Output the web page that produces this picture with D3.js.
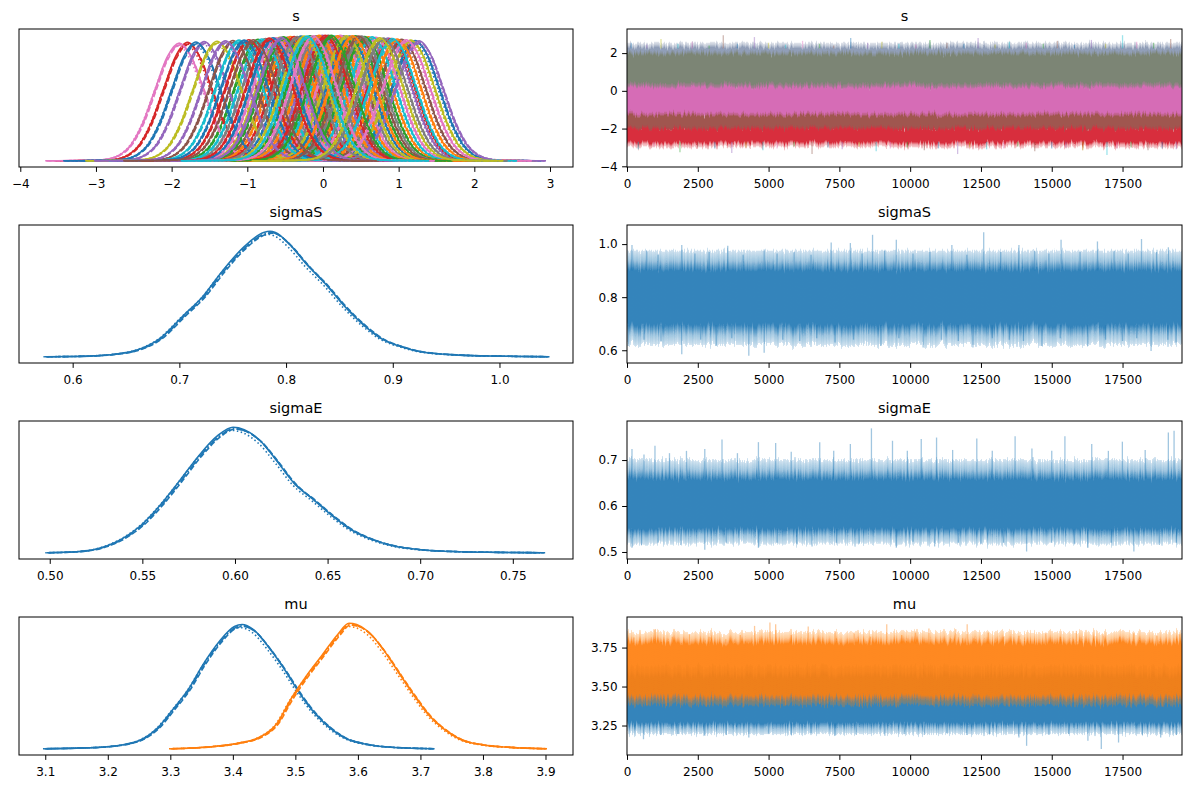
<!DOCTYPE html>
<html>
<head>
<meta charset="utf-8">
<script src="https://cdn.jsdelivr.net/npm/d3@7/dist/d3.min.js"></script>
<style>
  body { margin: 0; background: #fff; }
  svg text { font-family: "DejaVu Sans", sans-serif; fill: #000; }
</style>
</head>
<body>
<svg id="fig" width="1189" height="789"></svg>
<script>
// trace plot: posterior KDE on the left, chain traces on the right

// panel names, limits and tick labels
var varNames = ["s", "sigmaS", "sigmaE", "mu"];
var kdeLimits = [[-4.017, 3.304], [0.5497, 1.0689], [0.4834, 0.7825], [3.058, 3.944]];
var kdeTicks = [[-4, -3, -2, -1, 0, 1, 2, 3], [0.6, 0.7, 0.8, 0.9, 1.0],
  [0.50, 0.55, 0.60, 0.65, 0.70, 0.75], [3.1, 3.2, 3.3, 3.4, 3.5, 3.6, 3.7, 3.8, 3.9]];
var kdeTickFmt = ["d", ".1f", ".2f", ".1f"];
var iterLimits = [0, 19600];
var iterTicks = [0, 2500, 5000, 7500, 10000, 12500, 15000, 17500];
var traceLimits = [[-4.037, 3.278], [0.552, 1.072], [0.4847, 0.785], [3.061, 3.946]];
var traceTicks = [[-4, -2, 0, 2], [0.6, 0.8, 1.0], [0.5, 0.6, 0.7], [3.25, 3.50, 3.75]];
var traceTickFmt = ["d", ".1f", ".1f", ".2f"];

// s: one KDE per component (component index order)
var sMeans = [
  -0.29, 0.60, -0.86, -1.79, 0.86, -0.47, -1.90, 0.27, -0.57, 0.15,
  1.22, -0.43, 0.43, -0.38, -1.57, 1.04, 0.23, -0.76, 1.16, -0.81,
  -1.68, 0.19, -0.17, 0.90, -0.01, -1.19, 0.70, -0.09, -1.40, 0.65,
  0.35, -0.05, 0.55, -0.98, 1.27, 0.07, -0.62, 0.51, 0.31, -1.11,
  -1.04, 0.98, -0.52, 0.03, -1.29, 0.47, 1.10, -0.34, -0.25, 0.92,
  -0.66, 0.39, 0.11, -0.71, -0.55, -0.92, -0.13, 0.80, 0.75, -0.21];
var sSd = [
  0.302, 0.304, 0.310, 0.318, 0.307, 0.305, 0.320, 0.301, 0.305, 0.302,
  0.313, 0.303, 0.301, 0.303, 0.316, 0.310, 0.300, 0.308, 0.312, 0.309,
  0.317, 0.301, 0.301, 0.308, 0.300, 0.313, 0.305, 0.301, 0.315, 0.304,
  0.302, 0.300, 0.303, 0.311, 0.314, 0.300, 0.306, 0.302, 0.301, 0.312,
  0.312, 0.309, 0.304, 0.300, 0.314, 0.302, 0.311, 0.303, 0.302, 0.308,
  0.306, 0.301, 0.300, 0.307, 0.305, 0.311, 0.301, 0.307, 0.306, 0.302];
// shape of one s curve (height vs. offset in sd units)
var sProfileZ = [-5.5, -5, -4.5, -4, -3.5, -3, -2.5, -2, -1.5, -1, -0.5, 0, 0.5, 1, 1.5, 2, 2.5, 3, 3.5, 4, 4.5, 5, 5.3];
var sProfile = [0, 0.0002, 0.0005, 0.0015, 0.004, 0.012, 0.045, 0.135, 0.325, 0.605, 0.88, 1,
  0.88, 0.605, 0.325, 0.135, 0.045, 0.012, 0.004, 0.0015, 0.0005, 0.0002, 0];

// KDE curves of the scalar parameters
var sigmaSX = [0.574, 0.60, 0.62, 0.6395, 0.661, 0.681, 0.704, 0.722, 0.740, 0.761, 0.779, 0.785, 0.790,
  0.804, 0.819, 0.837, 0.855, 0.873, 0.890, 0.908, 0.926, 0.962, 0.998, 1.045];
var sigmaSY = [0, 0.002, 0.007, 0.02, 0.055, 0.14, 0.33, 0.48, 0.68, 0.88, 0.99, 1.0, 0.99,
  0.89, 0.74, 0.58, 0.40, 0.25, 0.14, 0.08, 0.04, 0.013, 0.005, 0];
var sigmaEX = [0.4984, 0.5146, 0.530, 0.539, 0.5495, 0.5598, 0.5701, 0.5805, 0.5908, 0.599, 0.605, 0.6135,
  0.622, 0.632, 0.6425, 0.6528, 0.663, 0.673, 0.6859, 0.700, 0.7209, 0.7416, 0.7664];
var sigmaEY = [0, 0.008, 0.05, 0.11, 0.22, 0.38, 0.57, 0.77, 0.93, 0.995, 0.976, 0.89,
  0.74, 0.55, 0.42, 0.29, 0.18, 0.11, 0.053, 0.024, 0.008, 0.003, 0];
var muBlueX = [3.0982, 3.1503, 3.2, 3.2305, 3.255, 3.2795, 3.304, 3.329, 3.353, 3.378, 3.4025, 3.4148,
  3.433, 3.4575, 3.482, 3.5065, 3.531, 3.5555, 3.580, 3.611, 3.6418, 3.7214];
var muBlueY = [0, 0.005, 0.016, 0.037, 0.075, 0.163, 0.31, 0.47, 0.67, 0.845, 0.965, 0.98,
  0.94, 0.80, 0.63, 0.44, 0.28, 0.163, 0.083, 0.037, 0.016, 0];
var muOrangeX = [3.2997, 3.3653, 3.408, 3.4448, 3.469, 3.4939, 3.5184, 3.543, 3.5674, 3.5858, 3.598,
  3.6164, 3.641, 3.6654, 3.69, 3.7143, 3.7388, 3.7633, 3.8, 3.843, 3.9];
var muOrangeY = [0, 0.016, 0.043, 0.096, 0.19, 0.40, 0.58, 0.74, 0.90, 0.99, 0.98,
  0.925, 0.78, 0.60, 0.42, 0.26, 0.15, 0.075, 0.03, 0.011, 0];

// small chain-to-chain differences (shift as fraction of curve span, height factor)
var chainShift = [0, 0.004, -0.003, 0.002];
var chainScale = [1, 0.985, 0.975, 0.99];

// traces: band levels [outerLo, coreLo, coreHi, outerHi] and the tallest spikes
var sBandOuterLo = [1.6, -0.15, -1.7, -2.35, -3.0];
var sBandCoreLo = [1.85, 0.1, -1.4, -2.1, -2.7];
var sBandCoreHi = [2.25, 1.9, 0.15, -1.35, -2.05];
var sBandOuterHi = [2.55, 2.1, 0.4, -1.15, -1.9];
var sUpIter = [150, 700, 1200, 1800, 2300, 2900, 3400, 3900, 4500, 5000, 5600, 6200, 6800, 7300, 7900, 8500, 9000,
  9600, 10200, 10700, 11300, 11900, 12400, 13000, 13500, 14100, 14700, 15200, 15800, 16400, 16900, 17500, 18000, 18600, 19200];
var sUpVal = [2.55, 2.45, 2.75, 2.5, 2.6, 2.4, 2.95, 2.5, 2.85, 2.55, 2.45, 2.65, 2.5, 2.4, 2.8, 2.55, 2.6,
  2.5, 2.45, 2.7, 2.55, 2.5, 2.8, 2.45, 2.6, 2.55, 2.5, 2.65, 2.45, 2.7, 2.5, 2.95, 2.6, 2.55, 2.75];
var sDownIter = [400, 950, 1870, 2500, 3100, 3700, 4200, 4800, 5300, 5900, 6535, 7100, 7600, 8200, 8800, 9300, 9900,
  10500, 11000, 11676, 12100, 12700, 13300, 13800, 14400, 15000, 15500, 16100, 16950, 17300, 17800, 18400, 18900, 19400];
var sDownVal = [-3.1, -2.95, -3.25, -3.0, -3.05, -3.3, -3.0, -3.15, -3.05, -2.95, -3.35, -3.0, -3.1, -2.95, -3.2, -3.05, -3.0,
  -3.15, -3.05, -3.35, -3.0, -3.1, -3.05, -2.95, -3.2, -3.05, -3.0, -3.15, -3.4, -3.05, -3.0, -3.15, -3.05, -3.1];

var sigmaSBand = [0.62, 0.695, 0.90, 0.975];
var sigmaSUpIter = [176, 700, 1100, 1934, 2400, 2900, 3558, 4100, 4844, 5300, 5900, 6500, 7211, 7888, 8300, 8672, 9100, 9511,
  10100, 10700, 11473, 12000, 12597, 13200, 13841, 14400, 14900, 15329, 16000, 16614, 17200, 17700, 18170, 18700, 19118];
var sigmaSUpVal = [0.997, 0.975, 0.96, 0.997, 0.965, 0.97, 0.994, 0.96, 0.98, 0.965, 0.97, 0.96, 1.006, 1.004, 0.965, 1.035, 0.975, 1.016,
  0.965, 0.97, 0.997, 0.96, 1.045, 0.97, 0.997, 0.975, 0.965, 1.016, 0.97, 1.01, 0.975, 0.965, 1.019, 0.97, 0.988];
var sigmaSDownIter = [41, 600, 1200, 1934, 2600, 3152, 3700, 4302, 4844, 5500, 6100, 6700, 7347, 8000, 8970, 9600,
  10458, 11100, 11700, 12217, 12900, 13500, 14000, 14653, 15300, 16277, 16900, 17500, 18000, 18508, 19100, 19388];
var sigmaSDownVal = [0.616, 0.64, 0.635, 0.585, 0.64, 0.616, 0.645, 0.579, 0.591, 0.64, 0.635, 0.645, 0.629, 0.64, 0.616, 0.645,
  0.61, 0.64, 0.635, 0.61, 0.645, 0.64, 0.635, 0.616, 0.645, 0.616, 0.64, 0.635, 0.645, 0.597, 0.64, 0.629];

var sigmaEBand = [0.518, 0.55, 0.658, 0.70];
var sigmaEUpIter = [176, 600, 988, 1500, 2100, 2747, 3355, 3900, 4641, 5250, 5800, 6806, 7300, 7888, 8632, 9376,
  9900, 10391, 10932, 11500, 12353, 12900, 13706, 14300, 15000, 15465, 16412, 17000, 17494, 18300, 19118, 19320];
var sigmaEUpVal = [0.724, 0.712, 0.731, 0.715, 0.72, 0.724, 0.745, 0.715, 0.739, 0.737, 0.718, 0.739, 0.72, 0.735, 0.769, 0.742,
  0.72, 0.746, 0.749, 0.722, 0.747, 0.72, 0.752, 0.725, 0.72, 0.752, 0.735, 0.72, 0.74, 0.722, 0.76, 0.764];
var sigmaEDownIter = [176, 514, 1100, 1900, 2747, 3500, 4641, 5300, 6000, 6535, 7400, 8200, 9511,
  10100, 10864, 11700, 12500, 13300, 14112, 15000, 15800, 16277, 17100, 17900, 18800, 19400];
var sigmaEDownVal = [0.509, 0.515, 0.52, 0.515, 0.505, 0.52, 0.509, 0.52, 0.518, 0.512, 0.52, 0.518, 0.509,
  0.522, 0.512, 0.52, 0.518, 0.52, 0.501, 0.52, 0.518, 0.509, 0.52, 0.501, 0.515, 0.52];

var muBlueBand = [3.195, 3.265, 3.56, 3.63];
var muBlueDownIter = [582, 1200, 1800, 2747, 3500, 4302, 5000, 5800, 6500, 7347, 8100, 9106, 9800, 10500, 11300, 12000,
  12800, 13841, 14112, 14900, 15600, 16277, 16750, 17359, 18200, 18847, 19400];
var muBlueDownVal = [3.162, 3.19, 3.195, 3.184, 3.19, 3.173, 3.195, 3.19, 3.2, 3.184, 3.19, 3.184, 3.195, 3.19, 3.2, 3.19,
  3.195, 3.173, 3.12, 3.19, 3.195, 3.152, 3.10, 3.141, 3.19, 3.173, 3.19];
var muOrangeBand = [3.38, 3.445, 3.775, 3.85];
var muOrangeUpIter = [244, 988, 1600, 2205, 2900, 3490, 4000, 4505, 5047, 5250, 5800, 6400, 7347, 8023, 8600, 9173,
  9700, 10188, 10662, 11609, 12014, 12759, 13300, 13841, 14788, 15300, 15870, 16817, 17400, 17900, 18712, 19523];
var muOrangeUpVal = [3.814, 3.868, 3.82, 3.835, 3.82, 3.803, 3.83, 3.889, 3.91, 3.90, 3.83, 3.885, 3.857, 3.846, 3.82, 3.90,
  3.83, 3.846, 3.872, 3.868, 3.90, 3.846, 3.82, 3.825, 3.846, 3.82, 3.857, 3.835, 3.82, 3.842, 3.825, 3.835];
var muOrangeDownIter = [700, 1394, 2800, 4100, 5600, 6806, 8200, 9511, 10800, 12217, 13500, 14923, 16200, 17629, 18900];
var muOrangeDownVal = [3.38, 3.376, 3.37, 3.365, 3.38, 3.387, 3.37, 3.365, 3.38, 3.376, 3.37, 3.387, 3.38, 3.365, 3.37];

// ---------------------------------------------------------------- //
var svg = d3.select("#fig");
var defs = svg.append("defs");
var tab10 = d3.schemeCategory10;
var blue = tab10[0], orange = tab10[1];
var leftRange = [19, 573], rightRange = [627, 1182];
var rowTop = [29, 225, 421, 617], rowH = 138;
var chainDash = ["none", "5.5,2.4", "1.5,2.5", "9.6,2.4,1.5,2.4"];
var sBandColors = ["#7586a6", "#7b8574", "#d66cb6", "#a0564f", "#d82f3d"];
var sBandCoreOp = [0.8, 1, 1, 1, 1];
var sSpikeColors = ["#1f77b4", "#9467bd", "#bcbd22", "#17becf", "#e377c2", "#2ca02c", "#8c564b"];

// ragged edge texture for the dense trace bands (only the vertical shift shows,
// the bands are uniform along x)
function raggedFilter(id, seed, amount) {
  var f = defs.append("filter").attr("id", id)
    .attr("x", "-2%").attr("y", "-30%").attr("width", "104%").attr("height", "160%");
  f.append("feTurbulence").attr("type", "fractalNoise").attr("baseFrequency", "0.55 0.004")
    .attr("numOctaves", 2).attr("seed", seed).attr("result", "n");
  f.append("feDisplacementMap").attr("in", "SourceGraphic").attr("in2", "n")
    .attr("scale", amount).attr("xChannelSelector", "R").attr("yChannelSelector", "G");
  return "url(#" + id + ")";
}

// kde curves for each row
var kdeCurves = [
  sMeans.map(function (m, i) {
    return {
      xs: sProfileZ.map(function (z) { return m + z * sSd[i]; }),
      ys: sProfile.map(function (p) { return p / sSd[i]; }),
      color: tab10[i % 10]
    };
  }),
  [{ xs: sigmaSX, ys: sigmaSY, color: blue }],
  [{ xs: sigmaEX, ys: sigmaEY, color: blue }],
  [{ xs: muBlueX, ys: muBlueY, color: blue }, { xs: muOrangeX, ys: muOrangeY, color: orange }]
];

function clipFor(id, x0, x1, top) {
  defs.append("clipPath").attr("id", id).append("rect")
    .attr("x", x0).attr("y", top).attr("width", x1 - x0).attr("height", rowH);
  return "url(#" + id + ")";
}

function styleTicks(a) {
  a.select(".domain").remove();
  a.selectAll("text").attr("font-size", 12).attr("font-family", "DejaVu Sans");
  a.selectAll("line").attr("stroke-width", 1);
}

function spine(x0, x1, top) {
  svg.append("rect").attr("x", x0).attr("y", top).attr("width", x1 - x0).attr("height", rowH)
    .attr("fill", "none").attr("stroke", "#000").attr("stroke-width", 1);
}

function title(txt, x0, x1, top) {
  svg.append("text").attr("x", (x0 + x1) / 2).attr("y", top - 8)
    .attr("text-anchor", "middle").attr("font-size", 14.5).text(txt);
}

// vertical gradient band: light fringe, dark core
var gradId = 0;
function band(g, x, y, lv, color, coreOp, amount) {
  var top = y(lv[3]), bot = y(lv[0]);
  var off = function (v) { return (y(v) - top) / (bot - top); };
  var o2 = off(lv[2]), o1 = off(lv[1]);
  var id = "grad" + (gradId);
  var gr = defs.append("linearGradient").attr("id", id).attr("gradientUnits", "userSpaceOnUse")
    .attr("x1", 0).attr("x2", 0).attr("y1", top).attr("y2", bot);
  [[0, 0.2], [o2 * 0.5, 0.42], [o2, coreOp], [o1, coreOp], [o1 + (1 - o1) * 0.5, 0.42], [1, 0.2]]
    .forEach(function (s) {
      gr.append("stop").attr("offset", s[0]).attr("stop-color", color).attr("stop-opacity", s[1]);
    });
  var r = x.range();
  g.append("rect").attr("x", r[0] - 15).attr("width", r[1] - r[0] + 30)
    .attr("y", top).attr("height", bot - top).attr("fill", "url(#" + id + ")")
    .attr("filter", raggedFilter("rag" + gradId, 3 + gradId * 7, amount));
  gradId++;
}

function spikes(g, x, y, iters, vals, base, colorFn) {
  g.append("g").selectAll("line").data(iters).join("line")
    .attr("x1", function (d) { return x(d); }).attr("x2", function (d) { return x(d); })
    .attr("y1", y(base)).attr("y2", function (d, i) { return y(vals[i]); })
    .attr("stroke", function (d, i) { return colorFn(i); })
    .attr("stroke-opacity", 0.42).attr("stroke-width", 1.3);
}

varNames.forEach(function (name, r) {
  var top = rowTop[r], bot = top + rowH;

  // ---- left: KDE ----
  var xk = d3.scaleLinear().domain(kdeLimits[r]).range(leftRange);
  var ymax = d3.max(kdeCurves[r], function (c) { return d3.max(c.ys); });
  var yk = d3.scaleLinear().domain([-0.05 * ymax, 1.05 * ymax]).range([bot, top]);
  var gk = svg.append("g").attr("clip-path", clipFor("ck" + r, leftRange[0], leftRange[1], top));
  kdeCurves[r].forEach(function (c) {
    var span = c.xs[c.xs.length - 1] - c.xs[0];
    chainDash.forEach(function (dash, ch) {
      var line = d3.line()
        .x(function (d, i) { return xk(c.xs[i] + chainShift[ch] * span); })
        .y(function (d) { return yk(d * chainScale[ch]); })
        .curve(d3.curveMonotoneX);
      gk.append("path").attr("d", line(c.ys)).attr("fill", "none")
        .attr("stroke", c.color).attr("stroke-width", 1.6)
        .attr("stroke-dasharray", dash);
    });
  });
  svg.append("g").attr("transform", "translate(0," + bot + ")")
    .call(d3.axisBottom(xk).tickValues(kdeTicks[r]).tickFormat(d3.format(kdeTickFmt[r]))
      .tickSize(4.9).tickPadding(7.1).tickSizeOuter(0))
    .call(styleTicks);
  spine(leftRange[0], leftRange[1], top);
  title(name, leftRange[0], leftRange[1], top);

  // ---- right: traces ----
  var xt = d3.scaleLinear().domain(iterLimits).range(rightRange);
  var yt = d3.scaleLinear().domain(traceLimits[r]).range([bot, top]);
  var gt = svg.append("g").attr("clip-path", clipFor("ct" + r, rightRange[0], rightRange[1], top));
  if (r === 0) {
    sBandColors.forEach(function (col, b) {
      band(gt, xt, yt, [sBandOuterLo[b], sBandCoreLo[b], sBandCoreHi[b], sBandOuterHi[b]], col, sBandCoreOp[b], 9);
    });
    var sc = function (i) { return sSpikeColors[i % sSpikeColors.length]; };
    spikes(gt, xt, yt, sUpIter, sUpVal, sBandCoreHi[0], sc);
    spikes(gt, xt, yt, sDownIter, sDownVal, sBandCoreLo[4], function (i) { return sSpikeColors[(i + 3) % sSpikeColors.length]; });
  } else if (r === 1) {
    band(gt, xt, yt, sigmaSBand, blue, 0.9, 14);
    spikes(gt, xt, yt, sigmaSUpIter, sigmaSUpVal, sigmaSBand[2], function () { return blue; });
    spikes(gt, xt, yt, sigmaSDownIter, sigmaSDownVal, sigmaSBand[1], function () { return blue; });
  } else if (r === 2) {
    band(gt, xt, yt, sigmaEBand, blue, 0.9, 14);
    spikes(gt, xt, yt, sigmaEUpIter, sigmaEUpVal, sigmaEBand[2], function () { return blue; });
    spikes(gt, xt, yt, sigmaEDownIter, sigmaEDownVal, sigmaEBand[1], function () { return blue; });
  } else {
    band(gt, xt, yt, muBlueBand, blue, 0.9, 12);
    spikes(gt, xt, yt, muBlueDownIter, muBlueDownVal, muBlueBand[1], function () { return blue; });
    band(gt, xt, yt, muOrangeBand, orange, 0.92, 12);
    spikes(gt, xt, yt, muOrangeUpIter, muOrangeUpVal, muOrangeBand[2], function () { return orange; });
    spikes(gt, xt, yt, muOrangeDownIter, muOrangeDownVal, muOrangeBand[1], function () { return orange; });
  }
  svg.append("g").attr("transform", "translate(0," + bot + ")")
    .call(d3.axisBottom(xt).tickValues(iterTicks).tickFormat(d3.format("d"))
      .tickSize(4.9).tickPadding(7.1).tickSizeOuter(0))
    .call(styleTicks);
  svg.append("g").attr("transform", "translate(" + rightRange[0] + ",0)")
    .call(d3.axisLeft(yt).tickValues(traceTicks[r]).tickFormat(d3.format(traceTickFmt[r]))
      .tickSize(4.9).tickPadding(4.5).tickSizeOuter(0))
    .call(styleTicks);
  spine(rightRange[0], rightRange[1], top);
  title(name, rightRange[0], rightRange[1], top);
});
</script>
</body>
</html>
